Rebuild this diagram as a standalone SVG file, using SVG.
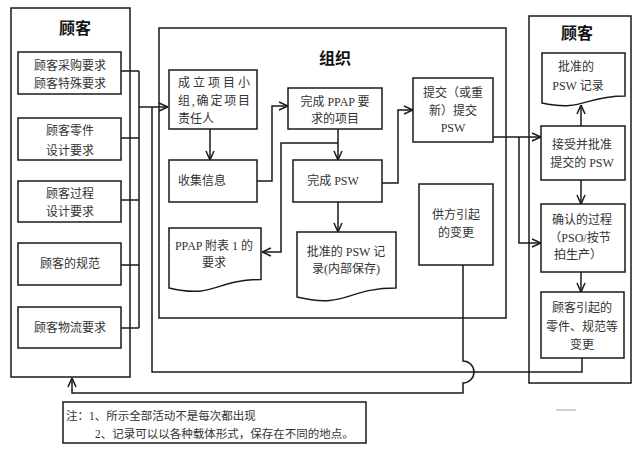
<svg xmlns="http://www.w3.org/2000/svg" width="640" height="453" viewBox="0 0 640 453">
<style>
.b{fill:#fff;stroke:#1a1a1a;stroke-width:1.5}
.c{fill:none;stroke:#1a1a1a;stroke-width:1.5}
.t{font-family:"Liberation Serif","Noto Sans CJK SC",serif;font-size:12px;fill:#333;text-anchor:middle;dominant-baseline:central}
.l{text-anchor:start}
.h{font-family:"Liberation Serif","Noto Sans CJK SC",serif;font-size:16px;font-weight:bold;fill:#111;text-anchor:middle;dominant-baseline:central}
</style>
<defs>
<marker id="arr" viewBox="0 0 10 10" refX="10" refY="5" markerWidth="10" markerHeight="10" markerUnits="userSpaceOnUse" orient="auto"><path d="M1,1 L10,5 L1,9" fill="none" stroke="#1a1a1a" stroke-width="1.5"/></marker>
</defs>
<rect width="640" height="453" fill="#fff"/>

<g id="customer-left">
<rect class="b" x="11" y="8" width="119" height="369"/>
<text class="h" x="75" y="28">顾客</text>
</g>
<g id="organization">
<rect class="b" x="159" y="28" width="347" height="290"/>
<text class="h" x="335" y="58">组织</text>
</g>
<g id="customer-right">
<rect class="b" x="529" y="16" width="102" height="367"/>
<text class="h" x="577" y="33">顾客</text>
</g>

<g id="connectors">
<path class="c" d="M121,71 H139 M121,138 H139 M121,200 H139 M121,265 H139 M121,328 H139 M139,71 V328"/>
<path class="c" d="M139,107 H168" marker-end="url(#arr)"/>
<path class="c" d="M582,358 V372 H152 V107"/>
<path class="c" d="M210,129 V160" marker-end="url(#arr)"/>
<path class="c" d="M257,181 H272 V106 H288" marker-end="url(#arr)"/>
<path class="c" d="M338,129 V160" marker-end="url(#arr)"/>
<path class="c" d="M338,143 H281 V252 H262" marker-end="url(#arr)"/>
<path class="c" d="M338,202 V232" marker-end="url(#arr)"/>
<path class="c" d="M382,183 H398 V110 H413" marker-end="url(#arr)"/>
<path class="c" d="M493,137 H541" marker-end="url(#arr)"/>
<path class="c" d="M519,137 V243 H541" marker-end="url(#arr)"/>
<path class="c" d="M581,126 V105" marker-end="url(#arr)"/>
<path class="c" d="M581,180 V204" marker-end="url(#arr)"/>
<path class="c" d="M581,272 V292" marker-end="url(#arr)"/>
<path class="c" d="M463,265 V361 A11,11 0 0 1 463,383 V393 H72 V378" marker-end="url(#arr)"/>
</g>

<g id="n-purchase">
<rect class="b" x="18" y="52" width="103" height="42"/>
<text class="t" x="70" y="66">顾客采购要求</text>
<text class="t" x="70" y="84">顾客特殊要求</text>
</g>
<g id="n-part-design">
<rect class="b" x="18" y="118" width="103" height="42"/>
<text class="t" x="70" y="131">顾客零件</text>
<text class="t" x="70" y="151">设计要求</text>
</g>
<g id="n-process-design">
<rect class="b" x="18" y="181" width="103" height="41"/>
<text class="t" x="70" y="194">顾客过程</text>
<text class="t" x="70" y="212">设计要求</text>
</g>
<g id="n-spec">
<rect class="b" x="18" y="243" width="103" height="42"/>
<text class="t" x="70" y="264">顾客的规范</text>
</g>
<g id="n-logistics">
<rect class="b" x="18" y="307" width="103" height="41"/>
<text class="t" x="70" y="328">顾客物流要求</text>
</g>

<g id="n-team">
<rect class="b" x="169" y="70" width="88" height="59"/>
<text class="t l" x="178" y="83" textLength="72" lengthAdjust="spacing">成立项目小</text>
<text class="t l" x="178" y="101" textLength="72" lengthAdjust="spacing">组,确定项目</text>
<text class="t l" x="178" y="119">责任人</text>
</g>
<g id="n-collect">
<rect class="b" x="169" y="160" width="88" height="42"/>
<text class="t l" x="178" y="181">收集信息</text>
</g>
<g id="n-ppap-items">
<rect class="b" x="288" y="88" width="94" height="41"/>
<text class="t" x="335" y="102">完成 PPAP 要</text>
<text class="t" x="335" y="119">求的项目</text>
</g>
<g id="n-psw">
<rect class="b" x="293" y="160" width="89" height="42"/>
<text class="t" x="333" y="181">完成 PSW</text>
</g>
<g id="n-ppap-annex">
<path class="b" d="M169,228 H261 V279.5 C215,279.5 215,299 169,288 Z"/>
<text class="t" x="214" y="246">PPAP 附表 1 的</text>
<text class="t" x="214" y="263">要求</text>
</g>
<g id="n-psw-record-internal">
<path class="b" d="M297,232 H396 V288 C346.5,288 346.5,309 297,297 Z"/>
<text class="t" x="346" y="252">批准的 PSW 记</text>
<text class="t" x="346" y="269">录(内部保存)</text>
</g>
<g id="n-submit">
<rect class="b" x="413" y="78" width="80" height="64"/>
<text class="t" x="453" y="93">提交（或重</text>
<text class="t" x="453" y="111">新）提交</text>
<text class="t" x="453" y="128">PSW</text>
</g>
<g id="n-supplier-change">
<rect class="b" x="419" y="184" width="74" height="81"/>
<text class="t" x="456" y="215">供方引起</text>
<text class="t" x="456" y="233">的变更</text>
</g>

<g id="n-psw-record">
<path class="b" d="M542,53 H625 V96 C583.5,96 583.5,112 542,103 Z"/>
<text class="t" x="576" y="67">批准的</text>
<text class="t" x="578" y="86">PSW 记录</text>
</g>
<g id="n-approve">
<rect class="b" x="541" y="126" width="84" height="54"/>
<text class="t" x="582" y="145">接受并批准</text>
<text class="t" x="582" y="163">提交的 PSW</text>
</g>
<g id="n-confirmed">
<rect class="b" x="541" y="204" width="84" height="68"/>
<text class="t" x="582" y="220">确认的过程</text>
<text class="t" x="580" y="238">（PSO/按节</text>
<text class="t" x="578" y="255">拍生产）</text>
</g>
<g id="n-customer-change">
<rect class="b" x="541" y="292" width="83" height="66"/>
<text class="t" x="582" y="308">顾客引起的</text>
<text class="t" x="582" y="327">零件、规范等</text>
<text class="t" x="582" y="345">变更</text>
</g>

<g id="note">
<rect class="b" x="63" y="402" width="303" height="41"/>
<text class="t l" x="66" y="416" style="font-size:11.5px">注：1、所示全部活动不是每次都出现</text>
<text class="t l" x="95" y="434" style="font-size:11.5px">2、记录可以以各种载体形式，保存在不同的地点。</text>
</g>
<line x1="556" y1="410" x2="576" y2="410" stroke="#d0d0d0" stroke-width="2"/>
</svg>
